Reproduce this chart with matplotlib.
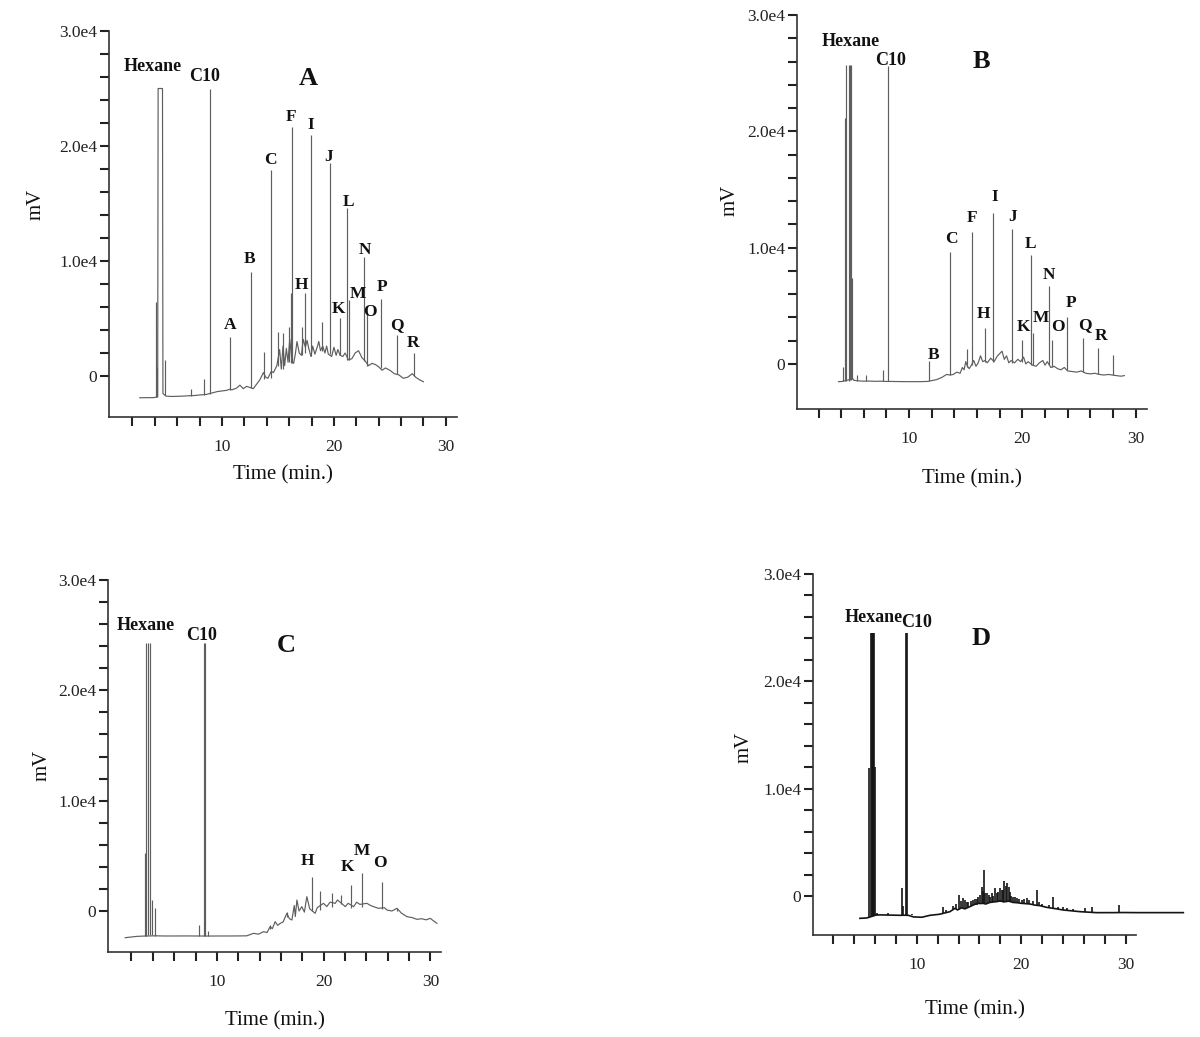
import matplotlib.pyplot as plt

# ---------------- data (time in min, signal in mV) ----------------
# panel A
a_trace = [(2.65, -1890), (3.9, -1880), (4.05, -1850), (4.25, -1800), (4.29, 25000), (4.68, 25000),
           (4.72, -1500), (4.8, -1600), (5.0, -1750), (5.5, -1780), (6.5, -1750), (7.0, -1720),
           (7.5, -1700), (8.0, -1650), (8.6, -1600), (9.2, -1450), (9.6, -1350), (10.0, -1300),
           (10.4, -1250), (10.7, -1150), (10.9, -1200), (11.3, -1050), (11.6, -800), (11.9, -1100),
           (12.2, -900), (12.5, -1000), (12.8, -1100), (13.1, -700), (13.4, -300), (13.7, 300),
           (13.9, -100), (14.1, -200), (14.4, 400), (14.6, 300), (14.9, 900), (15.15, 2300),
           (15.3, 600), (15.45, 2600), (15.6, 900), (15.75, 2400), (15.9, 1200), (16.05, 3200),
           (16.25, 1300), (16.4, 1100), (16.55, 1900), (16.7, 3000), (16.9, 2000), (17.1, 1800),
           (17.25, 3200), (17.45, 2500), (17.6, 3100), (17.75, 2400), (17.95, 1700), (18.1, 2600),
           (18.3, 1900), (18.5, 2500), (18.65, 3000), (18.8, 2200), (19.0, 2600), (19.2, 2000),
           (19.35, 2600), (19.5, 1900), (19.8, 1700), (20.0, 2500), (20.2, 1800), (20.35, 2300),
           (20.55, 1800), (20.8, 1700), (21.0, 2000), (21.3, 1400), (21.6, 1500), (21.9, 2000),
           (22.2, 2200), (22.5, 1600), (22.8, 1300), (23.1, 900), (23.4, 1100), (23.7, 1000),
           (24.0, 800), (24.3, 500), (24.6, 700), (25.0, 500), (25.4, 200), (25.8, 100),
           (26.2, -200), (26.6, -100), (27.0, 200), (27.3, -100), (27.6, -300), (28.0, -500)]
a_spikes = [(4.08, -1800, 6400), (4.2, -1800, 800), (4.91, -1650, 1400), (7.27, -1720, -1160),
            (8.41, -1620, -290), (8.89, -1600, 25000), (10.75, -1200, 3420), (12.56, -1000, 9080),
            (13.79, -300, 2100), (14.41, -200, 17920), (15.0, 900, 3800), (15.45, 600, 3700),
            (15.98, 1200, 4300), (16.19, 1100, 7190), (16.28, 1100, 21690), (17.17, 1800, 4300),
            (17.41, 2000, 7190), (17.92, 1700, 20970), (18.96, 2200, 4700), (19.62, 1900, 18500),
            (20.51, 1800, 5020), (21.19, 1400, 14590), (21.34, 1400, 6610), (22.71, 1300, 10380),
            (22.95, 900, 5450), (24.17, 700, 6700), (25.63, 150, 3570), (27.12, 0, 1970)]
a_labels = [("Hexane", 3.85, 26910), ("C10", 8.45, 26040), ("F", 16.2, 22560), ("I", 17.95, 21840),
            ("C", 14.35, 18790), ("J", 19.5, 19020), ("L", 21.3, 15160), ("B", 12.5, 10150),
            ("N", 22.75, 10960), ("H", 17.1, 7920), ("M", 22.15, 7130), ("P", 24.3, 7720),
            ("K", 20.45, 5800), ("O", 23.2, 5600), ("A", 10.75, 4440), ("Q", 25.65, 4440),
            ("R", 27.1, 2840)]

# panel B
b_trace = [(3.76, -1520), (4.1, -1500), (4.3, -1450), (4.9, -1300), (5.0, -1200), (5.1, -1400),
           (5.5, -1450), (6.0, -1480), (6.5, -1470), (7.0, -1490), (7.5, -1480), (8.0, -1500),
           (8.3, -1500), (9.0, -1510), (10.0, -1520), (11.0, -1520), (11.6, -1500), (11.9, -1450),
           (12.4, -1350), (12.9, -1150), (13.3, -900), (13.6, -950), (13.9, -900), (14.2, -700),
           (14.5, -800), (14.7, -300), (14.85, -500), (15.0, 200), (15.15, -200), (15.3, -400),
           (15.5, -100), (15.7, 300), (15.9, -200), (16.1, 100), (16.3, 700), (16.5, 200),
           (16.7, 300), (16.9, 100), (17.2, 500), (17.5, 200), (17.8, 700), (18.0, 900),
           (18.2, 1100), (18.4, 400), (18.6, 700), (18.8, 100), (19.0, 300), (19.3, 100),
           (19.6, 400), (19.85, 200), (20.1, 600), (20.3, 0), (20.5, 200), (20.9, -100),
           (21.2, -200), (21.5, 100), (21.8, 300), (22.0, -100), (22.2, 200), (22.5, -300),
           (22.8, -200), (23.1, -400), (23.4, -500), (23.7, -300), (24.0, -600), (24.4, -650),
           (24.8, -700), (25.2, -600), (25.6, -800), (26.0, -850), (26.4, -800), (26.8, -900),
           (27.2, -950), (27.6, -900), (28.3, -1000), (28.7, -1050), (29.0, -1000)]
b_spikes = [(4.2, -1500, -230), (4.35, -1500, 21130), (4.46, -1500, 25710), (4.72, -1500, 25710),
            (4.78, -1400, 25710), (4.84, -1400, 25710), (4.93, -1300, 7370), (5.38, -1450, -950),
            (6.17, -1480, -950), (7.67, -1480, -520), (8.09, -1500, 25630), (11.74, -1500, 260),
            (13.65, -950, 9600), (15.1, -300, 1290), (15.57, -100, 11380), (16.74, 200, 3070),
            (17.39, 200, 12960), (19.1, 100, 11580), (19.98, 200, 2060), (20.78, -100, 9370),
            (20.93, -100, 2640), (22.34, -100, 6710), (22.57, -300, 2060), (23.93, -500, 4070),
            (25.31, -650, 2210), (26.67, -850, 1350), (28.0, -950, 770)]
b_labels = [("Hexane", 4.88, 27720), ("C10", 8.39, 26060), ("I", 17.53, 14330), ("F", 15.56, 12530),
            ("J", 19.15, 12610), ("C", 13.7, 10720), ("L", 20.72, 10320), ("N", 22.34, 7650),
            ("P", 24.26, 5220), ("H", 16.53, 4300), ("M", 21.66, 3930), ("Q", 25.53, 3350),
            ("K", 20.07, 3210), ("O", 23.17, 3150), ("R", 26.91, 2410), ("B", 12.16, 770)]

# panel C
c_trace = [(1.41, -2420), (2.5, -2300), (3.2, -2270), (4.3, -2250), (5.0, -2265), (6.0, -2265),
           (7.0, -2260), (8.0, -2265), (9.3, -2270), (10.0, -2265), (11.0, -2265), (12.0, -2260),
           (12.8, -2250), (13.44, -2023), (13.9, -2100), (14.37, -1872), (14.7, -1950), (14.99, -1419),
           (15.2, -1600), (15.46, -966), (15.7, -1300), (15.94, -1117), (16.2, -1000), (16.56, -211),
           (16.8, -700), (17.03, -815), (17.25, 500), (17.35, -500), (17.5, 997), (17.7, 0),
           (17.96, 393), (18.2, -100), (18.43, 1299), (18.7, 200), (19.21, -211), (19.4, 300),
           (19.99, 695), (20.3, 400), (20.6, 800), (21.09, 695), (21.3, 1000), (21.8, 600),
           (22.03, 393), (22.3, 700), (22.81, 393), (23.1, 800), (23.4, 600), (24.06, 695),
           (24.4, 500), (24.68, 393), (25.15, 242), (25.7, 300), (25.93, 91), (26.4, 0),
           (26.87, 242), (27.3, -200), (27.81, -514), (28.3, -600), (28.74, -755), (29.2, -700),
           (29.6, -800), (30.0, -665), (30.3, -900), (30.62, -1117)]
c_spikes = [(3.28, -2265, 5225), (3.4, -2265, 24310), (3.53, -2200, 24310), (3.75, -2200, 24310),
            (3.9, -2200, 997), (4.22, -2250, 242), (8.34, -2265, -1268), (8.78, -2265, 24250),
            (8.93, -2265, 24250), (9.15, -2265, -1782), (14.99, -1600, -1268), (16.56, -500, -60),
            (18.96, 0, 3050), (19.62, 100, 1843), (20.77, 400, 1601), (21.62, 600, 1450),
            (22.56, 300, 2356), (23.59, 400, 3413), (25.46, 200, 2598), (26.87, 0, 242)]
c_labels = [("Hexane", 3.31, 25850), ("C10", 8.56, 25000), ("H", 18.48, 4560), ("K", 22.24, 3960),
            ("M", 23.59, 5440), ("O", 25.24, 4380)]

# panel D
d_trace = [(4.58, -2081), (5.21, -2050), (5.4, -2000), (6.1, -1780), (6.5, -1760), (7.0, -1770),
           (7.5, -1780), (8.0, -1790), (8.4, -1800), (8.8, -1790), (9.2, -1800), (9.7, -1950),
           (10.5, -1980), (11.27, -1800), (12.2, -1700), (12.6, -1600), (13.18, -1460), (13.66, -1150),
           (13.9, -1300), (14.3, -1100), (14.6, -1200), (15.08, -994), (15.41, -839), (15.79, -684),
           (16.1, -700), (16.36, -684), (16.59, -750), (17.0, -600), (17.4, -550), (17.64, -528),
           (18.0, -450), (18.3, -550), (18.8, -480), (19.2, -600), (19.55, -621), (20.0, -680),
           (20.5, -720), (20.82, -746), (21.3, -850), (21.77, -900), (22.42, -1057), (22.7, -1100),
           (23.37, -1200), (24.0, -1305), (24.48, -1350), (25.6, -1460), (26.3, -1500), (27.2, -1553),
           (28.0, -1550), (28.8, -1550), (29.74, -1540), (31.0, -1550), (33.0, -1550), (35.47, -1550)]
d_spikes = [(5.45, -2000, 11900), (5.6, -1900, 24480), (5.7, -1900, 24480), (5.79, -1900, 24480),
            (5.87, -1900, 24480), (5.95, -1800, 24480), (6.05, -1780, 12050), (6.18, -1770, -1616),
            (7.23, -1780, -1553), (8.56, -1800, 715), (8.65, -1800, -900), (9.02, -1800, 24480),
            (9.07, -1800, 24480), (9.52, -1800, -1679), (12.54, -1700, -994), (12.8, -1600, -1305),
            (13.5, -1300, -900), (13.8, -1250, -700), (14.07, -1200, 93), (14.2, -1150, -500),
            (14.39, -1150, -217), (14.61, -1150, -373), (14.83, -1100, -528), (14.95, -1000, -600),
            (15.2, -950, -500), (15.4, -850, -373), (15.57, -850, -311), (15.75, -800, -250),
            (15.9, -750, -100), (16.04, -700, 93), (16.2, -700, 870), (16.3, -700, 500),
            (16.43, -750, 2423), (16.55, -700, 300), (16.75, -650, 248), (16.9, -650, 100),
            (17.05, -650, -100), (17.16, -600, 248), (17.3, -600, 0), (17.48, -600, 715),
            (17.65, -550, 300), (17.8, -550, 404), (17.96, -550, 715), (18.11, -550, 559),
            (18.25, -550, 600), (18.34, -500, 1430), (18.55, -500, 900), (18.66, -500, 1243),
            (18.8, -500, 800), (18.91, -550, 404), (19.05, -550, 0), (19.23, -600, -62),
            (19.4, -600, -100), (19.61, -650, -217), (19.8, -650, -300), (20.1, -700, -350),
            (20.3, -700, -300), (20.5, -720, -217), (20.76, -750, -373), (21.1, -800, -500),
            (21.46, -850, 559), (21.7, -880, -600), (22.0, -950, -700), (22.6, -1050, -800),
            (23.05, -1150, -62), (23.53, -1250, -994), (24.0, -1300, -994), (24.32, -1350, -1150),
            (24.96, -1420, -1243), (26.07, -1500, -1150), (26.71, -1530, -994), (29.35, -1550, -839)]
d_labels = [("Hexane", 5.89, 25940), ("C10", 10.03, 25480)]

panel_names = ["A", "B", "C", "D"]
panel_name_pos = [(17.7, 25900), (16.38, 26000), (16.48, 24100), (16.19, 24010)]

x_ticks = list(range(2, 31, 2))
x_tick_labels = {10: "10", 20: "20", 30: "30"}
y_ticks = list(range(0, 30001, 2000))
y_tick_labels = {0: "0", 10000: "1.0e4", 20000: "2.0e4", 30000: "3.0e4"}

# ---------------- layout ----------------
W, H = 1200, 1037
# axes boxes in pixels: left, top, right, bottom
boxes = [(109, 31, 457, 417), (797, 15, 1147, 409), (108, 580, 441, 952), (813, 574, 1136, 935)]
xlims = [(-0.1, 31.0), (0.1, 31.0), (-0.2, 31.0), (0.1, 30.95)]
ylims = [(-3565, 30000), (-3870, 30000), (-3716, 30000), (-3634, 30000)]
xlabel_y = [-0.125, -0.152, -0.16, -0.18]
ylabel_xy = [(-0.181, 0.55), (-0.163, 0.53), (-0.168, 0.503), (-0.183, 0.52)]
line_colors = ["#5e5e5e", "#5e5e5e", "#5e5e5e", "#141414"]
line_widths = [0.85, 0.85, 0.85, 1.2]

plt.rcParams['font.family'] = ['Liberation Serif', 'DejaVu Serif']

fig = plt.figure(figsize=(W / 100, H / 100), dpi=100)

traces = [a_trace, b_trace, c_trace, d_trace]
spikes = [a_spikes, b_spikes, c_spikes, d_spikes]
labels = [a_labels, b_labels, c_labels, d_labels]

for i in range(4):
    l, t, r, b = boxes[i]
    ax = fig.add_axes([l / W, 1 - b / H, (r - l) / W, (b - t) / H])
    clip = i != 3  # the D trace runs past the end of its axis
    tt, vv = zip(*traces[i])
    ax.plot(tt, vv, color=line_colors[i], lw=line_widths[i], clip_on=clip)
    st, sb, stop = zip(*spikes[i])
    ax.vlines(st, sb, stop, color=line_colors[i], lw=line_widths[i], clip_on=clip)

    for txt, lt, lv in labels[i]:
        fs = 13 if txt in ("Hexane", "C10") else 12.5
        ax.text(lt, lv, txt, ha="center", va="center", fontsize=fs, fontweight="bold", color="#111")
    px, py = panel_name_pos[i]
    ax.text(px, py, panel_names[i], ha="center", va="center", fontsize=19, fontweight="bold", color="#111")

    ax.set_xlim(*xlims[i])
    ax.set_ylim(*ylims[i])
    ax.set_xticks(x_ticks)
    ax.set_xticklabels([x_tick_labels.get(v, "") for v in x_ticks])
    ax.set_yticks(y_ticks)
    ax.set_yticklabels([y_tick_labels.get(v, "") for v in y_ticks])
    ax.tick_params(axis="x", direction="out", length=6.5, width=1.5, pad=9, labelsize=12.5, colors="#222")
    ax.tick_params(axis="y", direction="out", length=6.5, width=1.5, pad=2, labelsize=12.5, colors="#222")
    for s in ("top", "right"):
        ax.spines[s].set_visible(False)
    for s in ("left", "bottom"):
        ax.spines[s].set_linewidth(1.2)
        ax.spines[s].set_color("#333")

    ax.set_xlabel("Time (min.)", fontsize=15, color="#111")
    ax.xaxis.set_label_coords(0.5, xlabel_y[i])
    ax.set_ylabel("mV", fontsize=15, color="#111")
    ax.yaxis.set_label_coords(*ylabel_xy[i])

fig.savefig("out.png", dpi=100)
